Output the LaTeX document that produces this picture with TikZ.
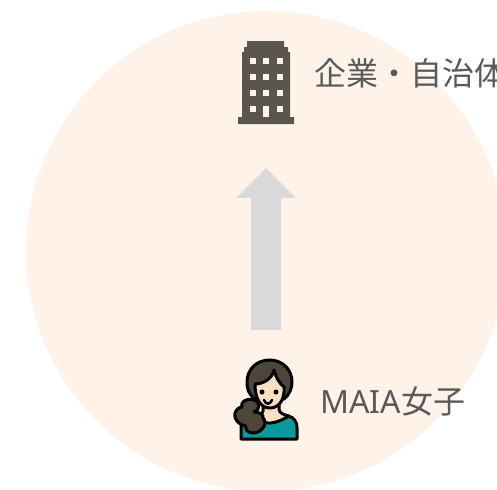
\documentclass[tikz,border=0pt]{standalone}
\usepackage{fontspec}
\setmainfont{Noto Sans CJK JP}
\newfontfamily\latinfont{Noto Sans}
\usepackage{tikz}
\usetikzlibrary{arrows.meta, positioning}
\definecolor{circlebg}{HTML}{FFF3E9}
\definecolor{arrowgray}{HTML}{D9D9D9}
\definecolor{textgray}{HTML}{595959}
\definecolor{buildinggray}{HTML}{5A554D}
\definecolor{hairbrown}{HTML}{4E4639}
\definecolor{skincolor}{HTML}{FBDFC3}
\definecolor{shirtteal}{HTML}{0A9A9C}
\tikzset{
  label text/.style={text=textgray, font=\fontsize{18.2pt}{22pt}\selectfont, inner sep=0pt, anchor=west},
  up arrow/.style={line width=0.6cm, draw=arrowgray, -{Triangle[length=0.6cm,width=1.16cm,fill=arrowgray]}},
  outline/.style={draw=black, line width=0.06cm, line join=round},
  window/.style={fill=circlebg}
}
\begin{document}
\begin{tikzpicture}[x=0.02cm, y=-0.02cm]
            \useasboundingbox (0,0) rectangle (497,490);
            \clip (0,0) rectangle (497,490);
            \fill [circlebg] (266,251) circle (240);
            % building
            \fill [buildinggray] (247,41) -- (284,41) -- (284,47) -- (288,47) -- (288,52) -- (290,52)
                -- (290,117) -- (294,117) -- (294,124) -- (238,124) -- (238,117) -- (242,117)
                -- (242,52) -- (244,52) -- (244,47) -- (247,47) -- cycle;
            \foreach \wx in {250,263,277}
                \foreach \wy in {58,74,90}
                    \fill [window] (\wx,\wy) rectangle ++(6,6);
            \fill [window] (250,106) rectangle ++(6,6);
            \fill [window] (277,106) rectangle ++(6,6);
            \fill [window] (263,106) rectangle (269,117);
            \node [label text] (company) at (314.5,73) {企業・自治体};
            % arrow
            \coordinate (arrowbase) at (266,329.5);
            \coordinate (arrowtip) at (266,168);
            \draw [up arrow] (arrowbase) -- (arrowtip);
            % person
            \draw [outline, fill=shirtteal] (241,439) -- (241,424) -- (262,417) -- (288,416)
                .. controls (294,417) and (297,422) .. (297,428) -- (297,439) -- cycle;
            \draw [outline, fill=hairbrown] (255,399) .. controls (248,394) and (247,388) .. (247,382)
                .. controls (247,369) and (257,360) .. (269.5,360) .. controls (282,360) and (292,369) .. (292,382)
                .. controls (292,388) and (290,394) .. (284,399) -- cycle;
            \draw [outline, fill=skincolor] (263,402) -- (263,411) .. controls (262,416) and (258,417) .. (258,418)
                .. controls (264,426) and (276,424) .. (289,416) .. controls (284,415) and (279,413) .. (279,409) -- (279,402) -- cycle;
            \draw [outline, fill=skincolor] (255,384) .. controls (263,384) and (272,379) .. (274,370)
                .. controls (276,378) and (280,384) .. (284,387) .. controls (285,398) and (280,408) .. (270,408)
                .. controls (260,408) and (255,398) .. (255,384) -- cycle;
            \fill (262,392) circle (2.5);
            \fill (276,392) circle (2.5);
            \draw [line width=0.05cm, line cap=round] (264,400) .. controls (266,405) and (270,405) .. (272,400);
            \draw [outline, fill=hairbrown] (244,401) .. controls (249,398) and (256,399) .. (258,403)
                .. controls (260,408) and (257,411) .. (254,412) .. controls (260,412) and (264,415) .. (263,418)
                .. controls (268,422) and (263,433) .. (253,433) .. controls (247,433) and (245,429) .. (246,426)
                .. controls (238,425) and (232,417) .. (236,411) .. controls (238,408) and (240,407) .. (242,407)
                .. controls (241,405) and (242,402) .. (244,401) -- cycle;
            \node [label text] (maia) at (320,401) {{\latinfont MAIA}女子};
\end{tikzpicture}
\end{document}
